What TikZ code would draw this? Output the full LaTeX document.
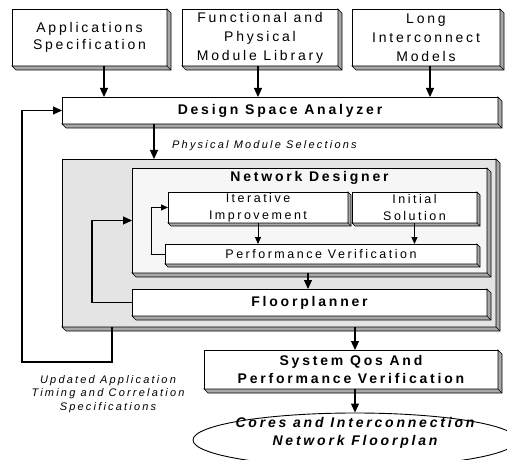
\documentclass[tikz,border=0pt]{standalone}
\usepackage{fontspec}
\setmainfont{Liberation Sans}
\newfontfamily\spfont{Liberation Sans}[LetterSpace=20]
\usetikzlibrary{arrows.meta,calc,shapes.geometric}
\definecolor{outergray}{RGB}{228,228,228}
\definecolor{ndgray}{RGB}{246,246,246}
\definecolor{bevelgray}{RGB}{168,168,168}
\newcommand\boxbevel[2][4]{%
  \filldraw[fill=bevelgray,draw=black,line width=0.7pt,line join=miter]
    (#2.north east) -- ++(#1,#1) -- ($(#2.south east)+(#1,#1)$) --
    ($(#2.south west)+(#1,#1)$) -- (#2.south west) -- (#2.south east) -- cycle;
  \draw[line width=0.7pt] (#2.south east) -- ++(#1,#1);}
\tikzset{
  box/.style={draw=black,line width=0.9pt,fill=white,align=center,inner sep=0pt,outer sep=0pt},
  regtxt/.style={font=\spfont\fontsize{14}{19}\selectfont},
  smalltxt/.style={font=\spfont\fontsize{12.5}{17}\selectfont},
  boldtxt/.style={font=\spfont\bfseries\fontsize{14}{18}\selectfont},
  ittxt/.style={font=\spfont\itshape\fontsize{11}{13.5}\selectfont},
  arr/.style={line width=1.1pt,-{Triangle[length=9pt,width=8pt]}},
  arrs/.style={line width=0.9pt,-{Triangle[length=7pt,width=6pt]}},
}
\begin{document}
\begin{tikzpicture}[x=1pt,y=-1pt]
\useasboundingbox (0,0) rectangle (507,460);
% top boxes
\node[box,regtxt,minimum width=155pt,minimum height=57pt,font=\spfont\fontsize{14}{17.5}\selectfont] (AS) at (89.5,37.5) {Applications\\Specification};
\boxbevel{AS}
\node[box,regtxt,minimum width=156pt,minimum height=57pt] (FP) at (260,37.5) {Functional and\\Physical\\Module Library};
\boxbevel{FP}
\node[box,regtxt,minimum width=148pt,minimum height=57pt] (LI) at (426,37.5) {Long\\Interconnect\\Models};
\boxbevel{LI}
% design space analyzer
\node[box,boldtxt,minimum width=436pt,minimum height=27pt] (DSA) at (280,110.5) {Design Space Analyzer};
\boxbevel{DSA}
% gray group
\node[box,fill=outergray,minimum width=434pt,minimum height=168pt] (grp) at (279,243) {};
\boxbevel{grp}
\node[box,fill=ndgray,minimum width=355pt,minimum height=105pt] (ND) at (309.5,220.5) {};
\boxbevel{ND}
\node[boldtxt,anchor=base,inner sep=0pt] (NDt) at (309.5,182) {Network Designer};
\node[box,smalltxt,minimum width=180pt,minimum height=31pt] (II) at (258,207.5) {Iterative\\Improvement};
\boxbevel[3]{II}
\node[box,smalltxt,minimum width=125pt,minimum height=31pt] (IS) at (414.5,207.5) {Initial\\Solution};
\boxbevel[3]{IS}
\node[box,smalltxt,minimum width=312pt,minimum height=20pt] (PV) at (321,254) {Performance Verification};
\boxbevel[3]{PV}
\node[box,boldtxt,minimum width=355pt,minimum height=27pt] (FL) at (309.5,302.5) {Floorplanner};
\boxbevel{FL}
% QoS
\node[box,boldtxt,minimum width=294pt,minimum height=39pt] (QoS) at (351,369.5) {System Qos And\\Performance Verification};
\boxbevel{QoS}
% ellipse
\node[draw=black,line width=0.9pt,ellipse,minimum width=324pt,minimum height=54pt,inner sep=0pt,
  label={[name=ellt,font=\spfont\bfseries\itshape\fontsize{14}{18}\selectfont,align=center,yshift=7pt]center:{Cores and Interconnection\\Network Floorplan}}] (ell) at (355,440) {};
% labels
\node[ittxt,anchor=base west,inner sep=0pt] (pms) at (172,149) {Physical Module Selections};
\node[ittxt,align=center,inner sep=0pt] (upd) at (108,394) {Updated Application\\Timing and Correlation\\Specifications};
% connectors
\draw[arr] ([xshift=14.5pt]AS.south) -- ([xshift=14.5pt]AS.south |- DSA.north);
\draw[arr] ([xshift=-2pt]FP.south) -- ([xshift=-2pt]FP.south |- DSA.north);
\draw[arr] ([xshift=4pt]LI.south) -- ([xshift=4pt]LI.south |- DSA.north);
\draw[arr] ([xshift=-126pt]DSA.south) -- ([xshift=-126pt]DSA.south |- grp.north);
\draw[arrs] (II.south) -- (II.south |- PV.north);
\draw[arrs] (IS.south) -- (IS.south |- PV.north);
\draw[arrs] (PV.west) -- ++(-14,0) |- (II.west);
\draw[arr] ([xshift=-1.5pt]ND.south) -- ([xshift=-1.5pt]ND.south |- FL.north);
\draw[arr] (FL.west) -- ++(-40,0) |- (ND.west);
\draw[arr] ([xshift=-167pt]grp.south) |- ++(-90,35) |- (DSA.west);
\draw[arr] ([xshift=76pt]grp.south) -- ([xshift=76pt]grp.south |- QoS.north);
\draw[arr] ([xshift=4pt]QoS.south) -- (ell.north);
\end{tikzpicture}
\end{document}
